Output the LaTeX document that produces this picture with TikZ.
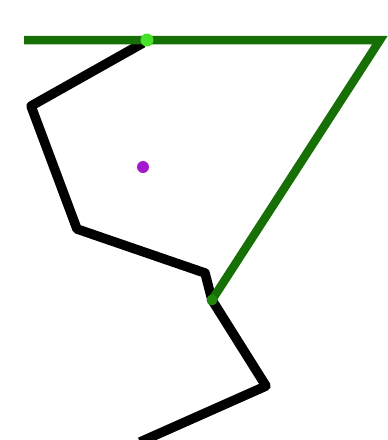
\documentclass[tikz,border=0pt]{standalone}
\usepackage{xcolor}
\usepackage{tikz}

\definecolor{darkgreen}{RGB}{22,112,6}
\definecolor{lightgreen}{RGB}{70,225,40}
\definecolor{dotpurple}{RGB}{165,25,205}

\begin{document}
\begin{tikzpicture}[
  x=1pt, y=-1pt,
  path/.style={draw=black, line width=9.5pt, line join=round},
  edge/.style={draw=darkgreen, line width=8.5pt, line join=miter},
  vertex/.style={circle, fill=lightgreen, inner sep=0pt, minimum size=13pt},
  centre/.style={circle, fill=dotpurple, inner sep=0pt, minimum size=12pt}
]
\useasboundingbox (0,0) rectangle (388,440);
\clip (0,0) rectangle (388,440);

% points of the chain
\coordinate (p0) at (143,43);
\coordinate (p1) at (31,106);
\coordinate (p2) at (77,229);
\coordinate (p3) at (205,273);
\coordinate (p4) at (212,300);
\coordinate (p5) at (266,386);
\coordinate (p6) at (140,442);

% top edge and diagonal
\coordinate (left) at (24,40);
\coordinate (corner) at (380,40);

\draw[path] (p0) -- (p1) -- (p2) -- (p3) -- (p4) -- (p5) -- (p6);
\draw[edge] (left) -- (corner) -- (p4);

\node[vertex] (a) at (147,40) {};
\node[vertex, fill=darkgreen!80!lightgreen, minimum size=11pt] (b) at (p4) {};
\node[centre] (c) at (143,167) {};
\end{tikzpicture}
\end{document}
